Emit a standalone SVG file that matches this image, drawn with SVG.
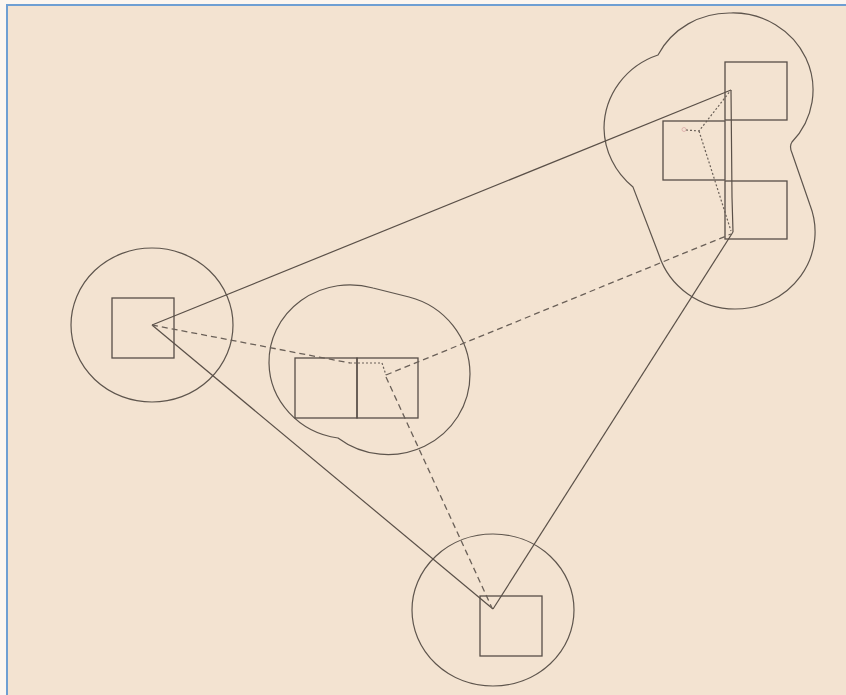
<svg xmlns="http://www.w3.org/2000/svg" width="846" height="695" viewBox="0 0 846 695">
<style>
.bg{fill:#F3E3D1}
.frame{stroke:#6E9FD3;stroke-width:2;fill:none}
.sq{fill:none;stroke:#574E47;stroke-width:1.3}
.ring{fill:none;stroke:#5E554D;stroke-width:1.2}
.solid{fill:none;stroke:#5A5048;stroke-width:1.2}
.dash{fill:none;stroke:#6A6058;stroke-width:1.3;stroke-dasharray:6 4}
.dot{fill:none;stroke:#6A6058;stroke-width:1.2;stroke-dasharray:2 2}
</style>
<rect width="846" height="695" fill="#FBF6F0"/>
<rect class="bg" x="7" y="5" width="839" height="690"/>
<line class="frame" x1="6" y1="5" x2="846" y2="5"/>
<line class="frame" x1="7" y1="4" x2="7" y2="695"/>

<g id="node-left">
  <ellipse class="ring" cx="152" cy="325" rx="81" ry="77"/>
  <rect class="sq" x="112" y="298" width="62" height="60"/>
</g>

<g id="node-bottom">
  <ellipse class="ring" cx="493" cy="610" rx="81" ry="76"/>
  <rect class="sq" x="480" y="596" width="62" height="60"/>
</g>

<g id="node-middle">
  <path class="ring" d="M338,438 A81 77 0 0 1 269,363 A81 77 0 0 1 373,288 L409,297 A82 80 0 0 1 470,374 A82 80 0 0 1 338,438 Z"/>
  <rect class="sq" x="295" y="358" width="62" height="60"/>
  <rect class="sq" x="357" y="358" width="61" height="60"/>
</g>

<g id="node-topright">
  <path class="ring" d="M658,55 A80 77 0 0 1 731,13 A80 77 0 0 1 792,142 Q789,146 792,153 L810,205 A80 77 0 0 1 735,309 A80 77 0 0 1 659,255 L633,187 A80 78 0 0 1 604,128 A80 78 0 0 1 658,55 Z"/>
  <rect class="sq" x="725" y="62" width="62" height="58"/>
  <rect class="sq" x="663" y="121" width="62" height="59"/>
  <rect class="sq" x="725" y="181" width="62" height="58"/>
  <circle cx="684" cy="129.5" r="2" fill="none" stroke="#E0B4B0" stroke-width="1"/>
</g>

<g id="connectors">
  <line class="solid" x1="152" y1="325" x2="731" y2="90"/>
  <line class="solid" x1="152" y1="325" x2="493" y2="609"/>
  <line class="solid" x1="493" y1="609" x2="733" y2="232"/>
  <polyline class="solid" points="731,90 732,197 733,232"/>
  <line class="dash" x1="152" y1="325" x2="350" y2="363"/>
  <line class="dash" x1="386" y1="375" x2="731" y2="234"/>
  <line class="dash" x1="386" y1="377" x2="492" y2="608"/>
  <polyline class="dot" points="350,363 382,363 386,375"/>
  <polyline class="dot" points="686,130 699,131 731,90"/>
  <line class="dot" x1="699" y1="131" x2="731" y2="231"/>
</g>
</svg>
